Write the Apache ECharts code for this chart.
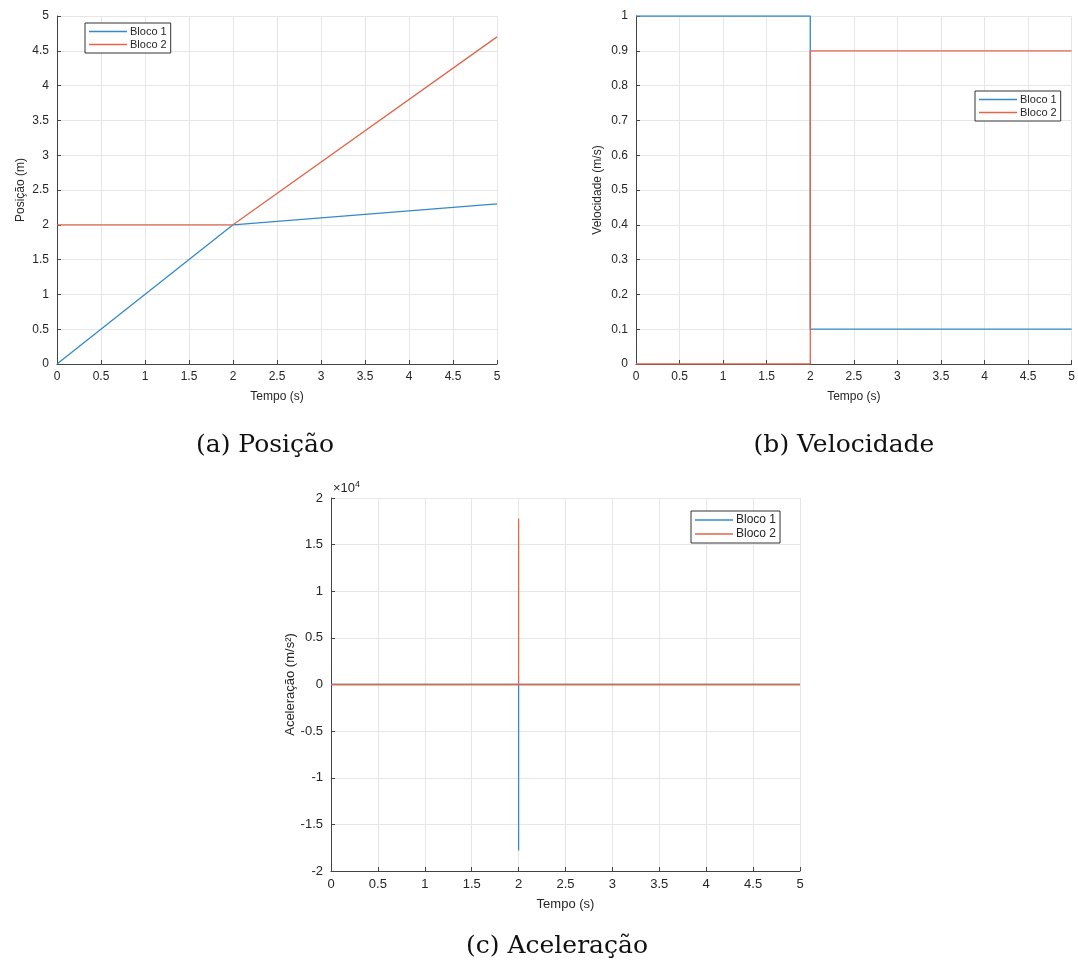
<!DOCTYPE html>
<html>
<head>
<meta charset="utf-8">
<script src="https://cdn.jsdelivr.net/npm/echarts@6/dist/echarts.min.js"></script>
<style>
  html, body { margin: 0; padding: 0; background: #fff; }
  #chart { width: 1078px; height: 967px; }
</style>
</head>
<body>
<div id="chart"></div>
<script>
// (a) posição
const posTempo = [0, 2, 5];
const posBloco1 = [0, 2, 2.3];
const posBloco2 = [2, 2, 4.7];
// (b) velocidade
const velTempo = [0, 2, 2, 5];
const velBloco1 = [1, 1, 0.1, 0.1];
const velBloco2 = [0, 0, 0.9, 0.9];
// (c) aceleração (m/s^2)
const acelTempo = [0, 2, 2, 2, 5];
const acelBloco1 = [0, 0, -17800, 0, 0];
const acelBloco2 = [0, 0, 17800, 0, 0];

const azul = '#3389cc';
const laranja = '#e2664a';
const txt = '#262626';
const font = 'Liberation Sans';

const pares = (xs, ys) => xs.map((x, i) => [x, ys[i]]);

function eixoX(idx, size) {
  return {
    type: 'value', gridIndex: idx, min: 0, max: 5, interval: 0.5,
    name: 'Tempo (s)', nameLocation: 'middle', nameGap: 27,
    nameTextStyle: {color: txt, fontFamily: font, fontSize: size},
    axisLine: {show: true, onZero: false, lineStyle: {color: '#444', width: 1}},
    axisTick: {show: true, inside: true, length: 4, lineStyle: {color: '#444'}},
    axisLabel: {color: txt, fontFamily: font, fontSize: size, margin: 7},
    splitLine: {show: true, lineStyle: {color: '#e6e6e6'}}
  };
}

function eixoY(idx, opts, size) {
  return Object.assign({
    type: 'value', gridIndex: idx, nameLocation: 'middle',
    nameTextStyle: {color: txt, fontFamily: font, fontSize: size},
    axisLine: {show: true, onZero: false, lineStyle: {color: '#444', width: 1}},
    axisTick: {show: true, inside: true, length: 4, lineStyle: {color: '#444'}},
    axisLabel: {color: txt, fontFamily: font, fontSize: size, margin: 8},
    splitLine: {show: true, lineStyle: {color: '#e6e6e6'}}
  }, opts);
}

function serie(nome, idx, dados, cor) {
  return {
    name: nome, type: 'line', xAxisIndex: idx, yAxisIndex: idx,
    data: dados, symbol: 'none', animation: false,
    lineStyle: {color: cor, width: 1.3}, itemStyle: {color: cor}
  };
}

function legenda(pos, size) {
  return Object.assign({
    data: ['Bloco 1', 'Bloco 2'], orient: 'vertical',
    icon: 'rect', itemWidth: 38, itemHeight: 1.5,
    borderColor: '#333', borderWidth: 1, backgroundColor: '#fff',
    padding: [3, 4, 3, 4], itemGap: 2,
    textStyle: {color: txt, fontFamily: font, fontSize: size, padding: [0, 0, 0, -2]}
  }, pos);
}

const legendaFonte = '25px "DejaVu Serif"';

const chart = echarts.init(document.getElementById('chart'));
chart.setOption({
  backgroundColor: '#fff',
  grid: [
    {left: 57, top: 16, width: 440, height: 348},
    {left: 636, top: 16, width: 440, height: 348},
    {left: 331, top: 498, width: 469, height: 373}
  ],
  xAxis: [eixoX(0, 12), eixoX(1, 12), eixoX(2, 13)],
  yAxis: [
    eixoY(0, {min: 0, max: 5, interval: 0.5, name: 'Posição (m)', nameGap: 30}, 12),
    eixoY(1, {min: 0, max: 1, interval: 0.1, name: 'Velocidade (m/s)', nameGap: 32}, 12),
    eixoY(2, {min: -20000, max: 20000, interval: 5000, name: 'Aceleração (m/s²)', nameGap: 34,
      axisLabel: {color: txt, fontFamily: font, fontSize: 13, margin: 8,
        formatter: v => String(v / 10000)}}, 13)
  ],
  legend: [
    legenda({left: 85, top: 23}, 11),
    legenda({left: 975, top: 91}, 11),
    legenda({left: 691, top: 511}, 12)
  ],
  series: [
    serie('Bloco 1', 0, pares(posTempo, posBloco1), azul),
    serie('Bloco 2', 0, pares(posTempo, posBloco2), laranja),
    serie('Bloco 1', 1, pares(velTempo, velBloco1), azul),
    serie('Bloco 2', 1, pares(velTempo, velBloco2), laranja),
    serie('Bloco 1', 2, pares(acelTempo, acelBloco1), azul),
    serie('Bloco 2', 2, pares(acelTempo, acelBloco2), laranja)
  ],
  graphic: [
    {type: 'text', left: 333, top: 480, style: {
      text: '×10{s|4}', fill: txt, font: '13px "Liberation Sans"',
      rich: {s: {fontSize: 9, verticalAlign: 'top', padding: [0, 0, 8, 0], fill: txt}}}},
    {type: 'text', x: 265, y: 445, style: {text: '(a) Posição', fill: '#111',
      font: legendaFonte, align: 'center', verticalAlign: 'middle'}},
    {type: 'text', x: 844, y: 445, style: {text: '(b) Velocidade', fill: '#111',
      font: legendaFonte, align: 'center', verticalAlign: 'middle'}},
    {type: 'text', x: 557, y: 946, style: {text: '(c) Aceleração', fill: '#111',
      font: legendaFonte, align: 'center', verticalAlign: 'middle'}}
  ]
});
</script>
</body>
</html>
